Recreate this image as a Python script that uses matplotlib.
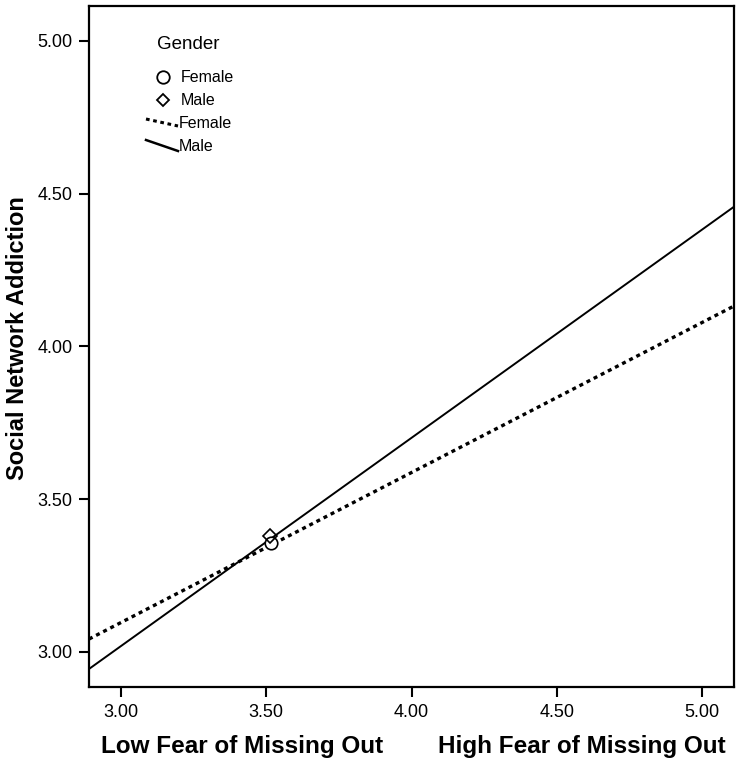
import matplotlib
matplotlib.use("Agg")
import matplotlib.pyplot as plt
from matplotlib.lines import Line2D
import numpy as np

plt.rcParams["font.family"] = ["Liberation Sans", "DejaVu Sans"]

# fitted lines (value at left edge, value at right edge)
x_range = [2.891, 5.109]
female_line = [3.042, 4.132]
male_line = [2.944, 4.457]

# group means
female_mean = (3.516, 3.356)
male_mean = (3.512, 3.378)

x_ticks = [3.00, 3.50, 4.00, 4.50, 5.00]
y_ticks = [3.00, 3.50, 4.00, 4.50, 5.00]

fig = plt.figure(figsize=(7.44, 7.69), dpi=100)
ax = fig.add_axes([89 / 744, 1 - 687 / 769, (734 - 89) / 744, (687 - 6) / 769])

ax.plot(x_range, female_line, color="black", linestyle=(0, (1.2, 1.2)), linewidth=2.4)
ax.plot(x_range, male_line, color="black", linestyle="-", linewidth=1.4)
ax.plot(*female_mean, marker="o", markersize=9, markerfacecolor="white",
        markeredgecolor="black", markeredgewidth=1.2)
ax.plot(*male_mean, marker="D", markersize=7, markerfacecolor="none",
        markeredgecolor="black", markeredgewidth=1.2)

ax.set_xlim(x_range)
ax.set_ylim(2.885, 5.114)
ax.set_xticks(x_ticks)
ax.set_yticks(y_ticks)
ax.set_xticklabels([f"{v:.2f}" for v in x_ticks])
ax.set_yticklabels([f"{v:.2f}" for v in y_ticks])
ax.tick_params(direction="out", length=7, width=1.5, labelsize=13, pad=5)
for s in ax.spines.values():
    s.set_linewidth(1.6)

fig.text(18 / 744, 1 - 338 / 769, "Social Network Addiction", fontsize=17,
         fontweight="bold", rotation=90, ha="center", va="center")
fig.text(242 / 744, 1 - 747 / 769, "Low Fear of Missing Out", fontsize=17.5,
         fontweight="bold", ha="center", va="center")
fig.text(582 / 744, 1 - 747 / 769, "High Fear of Missing Out", fontsize=17.5,
         fontweight="bold", ha="center", va="center")

# legend, drawn by hand
def fx(px):
    return (px - 89) / (734 - 89)

def fy(py):
    return (687 - py) / (687 - 6)

tr = ax.transAxes
ax.text(fx(157), fy(44), "Gender", fontsize=13.5, ha="left", va="center", transform=tr)
ax.plot(fx(163), fy(77), marker="o", markersize=9, markerfacecolor="white",
        markeredgecolor="black", markeredgewidth=1.3, transform=tr)
ax.text(fx(181), fy(77), "Female", fontsize=11.5, ha="left", va="center", transform=tr)
ax.plot(fx(163), fy(100), marker="D", markersize=6.5, markerfacecolor="none",
        markeredgecolor="black", markeredgewidth=1.3, transform=tr)
ax.text(fx(181), fy(100), "Male", fontsize=11.5, ha="left", va="center", transform=tr)
ax.add_line(Line2D([fx(146), fx(178)], [fy(119), fy(126)], color="black",
                   linestyle=(0, (1.2, 1.2)), linewidth=2.2, transform=tr))
ax.text(fx(179), fy(123), "Female", fontsize=11.5, ha="left", va="center", transform=tr)
ax.add_line(Line2D([fx(146), fx(178)], [fy(140), fy(151)], color="black",
                   linestyle="-", linewidth=1.8, transform=tr))
ax.text(fx(179), fy(146), "Male", fontsize=11.5, ha="left", va="center", transform=tr)

fig.savefig("out.png", dpi=100)
